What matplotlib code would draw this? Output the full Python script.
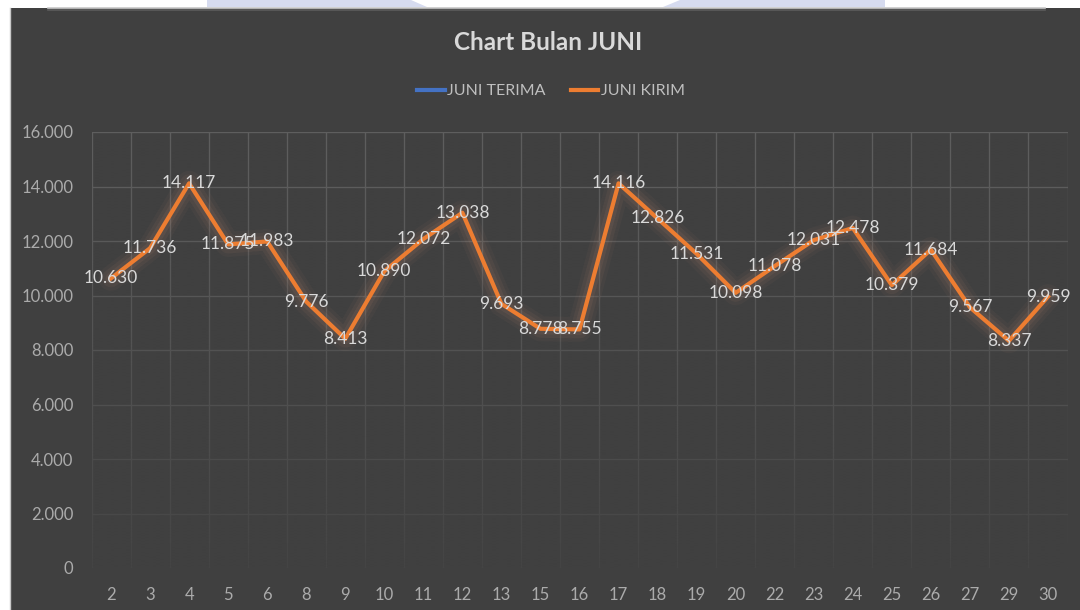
import numpy as np
import matplotlib.pyplot as plt
from matplotlib.ticker import FuncFormatter
from matplotlib.patches import Rectangle, Polygon

plt.rcParams['font.family'] = ['Lato', 'DejaVu Sans']

# data
tanggal = ['2', '3', '4', '5', '6', '8', '9', '10', '11', '12', '13', '15', '16',
           '17', '18', '19', '20', '22', '23', '24', '25', '26', '27', '29', '30']
juni_kirim = [10630, 11736, 14117, 11875, 11983, 9776, 8413, 10890, 12072, 13038,
              9693, 8778, 8755, 14116, 12826, 11531, 10098, 11078, 12031, 12478,
              10379, 11684, 9567, 8337, 9959]
juni_terima = []  # no visible line in the chart
y_ticks = [0, 2000, 4000, 6000, 8000, 10000, 12000, 14000, 16000]

bg = '#404040'
orange = '#ED7D31'
blue = '#4472C4'

W, H = 1080, 610
fig = plt.figure(figsize=(10.8, 6.1), dpi=100)
fig.patch.set_facecolor(bg)


def px(x, y):
    return (x / W, 1 - y / H)


# white margins of the screenshot
fig.patches.append(Rectangle((0, 0), 10 / W, 1, transform=fig.transFigure,
                             facecolor='white', edgecolor='none', zorder=5))
fig.patches.append(Rectangle((0, 1 - 8 / H), 1, 8 / H, transform=fig.transFigure,
                             facecolor='white', edgecolor='none', zorder=5))
fig.patches.append(Rectangle(px(207, 7), (885 - 207) / W, 7 / H,
                             transform=fig.transFigure, facecolor='#d6dbef',
                             edgecolor='none', zorder=6))
fig.patches.append(Polygon([px(411, 0), px(680, 0), px(663, 7), px(427, 7)],
                           closed=True, transform=fig.transFigure,
                           facecolor='white', edgecolor='none', zorder=7))
fig.lines.append(plt.Line2D([48 / W, 1045 / W], [1 - 7.5 / H] * 2,
                            transform=fig.transFigure, color='#c8c8c8', lw=1.2, zorder=8))
fig.lines.append(plt.Line2D([48 / W, 1045 / W], [1 - 9.5 / H] * 2,
                            transform=fig.transFigure, color='#5c5c5c', lw=1.2, zorder=8))
fig.lines.append(plt.Line2D([9.5 / W] * 2, [0, 1 - 8 / H],
                            transform=fig.transFigure, color='#c8c8c8', lw=1, zorder=8))

ax = fig.add_axes([91.5 / W, 1 - 568 / H, 976 / W, 436 / H])
ax.set_facecolor(bg)
x = np.arange(len(tanggal))

# grid: horizontal lines and category boundaries
for v in y_ticks:
    ax.axhline(v, color='#5e5e5e', lw=1, zorder=0)
for b in np.arange(-0.5, len(tanggal), 1):
    ax.axvline(b, color='#5e5e5e', lw=1, zorder=0)

# fade the grid toward the bottom
grad = np.zeros((100, 1, 4))
grad[:, 0, :3] = np.array([0x40, 0x40, 0x40]) / 255
grad[:, 0, 3] = np.linspace(0.0, 0.88, 100) ** 1.2
ax.imshow(grad, extent=(-0.5, len(tanggal) - 0.5, 0, 16000), aspect='auto',
          origin='upper', zorder=1, interpolation='bilinear')

# glow around the line
for lw, a in [(18, 0.04), (13, 0.06), (8, 0.08)]:
    ax.plot(x, juni_kirim, color='#e0a080', lw=lw, alpha=a, solid_capstyle='round',
            solid_joinstyle='round', zorder=2)

ax.plot(juni_terima, color=blue, lw=3, label='JUNI TERIMA', zorder=3)
ax.plot(x, juni_kirim, color=orange, lw=3, label='JUNI KIRIM', zorder=3)

for xi, v in zip(x, juni_kirim):
    lbl = f'{v:,}'.replace(',', '.')
    ax.text(xi, v, lbl, ha='center', va='center', fontsize=12.5,
            color='#d9d9d9', zorder=4)

ax.set_xlim(-0.5, len(tanggal) - 0.5)
ax.set_ylim(0, 16000)
ax.set_xticks(x)
ax.set_xticklabels(tanggal)
ax.set_yticks(y_ticks)
ax.yaxis.set_major_formatter(FuncFormatter(lambda v, p: f'{int(v):,}'.replace(',', '.')))
ax.tick_params(axis='both', length=0, colors='#ababab', labelsize=12)
ax.tick_params(axis='y', pad=13)
ax.tick_params(axis='x', pad=14)
for s in ax.spines.values():
    s.set_visible(False)

fig.text(548 / W, 1 - 42 / H, 'Chart Bulan JUNI', ha='center', va='center',
         fontsize=17.5, fontweight='bold', color='#d9d9d9')

fig.legend(loc='center', bbox_to_anchor=(551 / W, 1 - 91 / H), ncol=2,
           frameon=False, fontsize=11.5, labelcolor='#bfbfbf', handlelength=1.7,
           handletextpad=0.15, columnspacing=1.6)

fig.savefig('out.png', dpi=100, facecolor=fig.get_facecolor())
